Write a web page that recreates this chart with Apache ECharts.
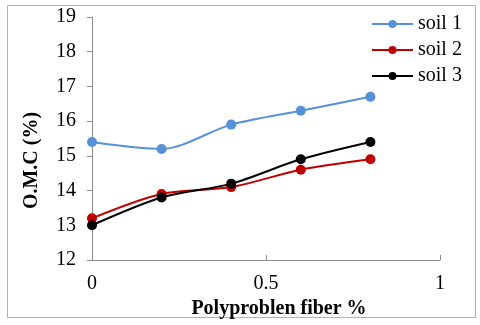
<!DOCTYPE html>
<html>
<head>
<meta charset="utf-8">
<script src="https://cdn.jsdelivr.net/npm/echarts@6/dist/echarts.min.js"></script>
<style>
  html, body { margin: 0; padding: 0; background: #fff; }
  #chart { width: 480px; height: 325px; }
</style>
</head>
<body>
<div id="chart"></div>
<script>
const fiber = [0, 0.2, 0.4, 0.6, 0.8]
const soil1 = [15.4, 15.2, 15.9, 16.3, 16.7]
const soil2 = [13.2, 13.9, 14.1, 14.6, 14.9]
const soil3 = [13.0, 13.8, 14.2, 14.9, 15.4]
const seriesNames = ['soil 1', 'soil 2', 'soil 3']
const colors = ['#5591d8', '#c00000', '#000000']

const font = 'Liberation Serif'
const myChart = echarts.init(document.getElementById('chart'))

const pairs = (ys) => fiber.map((x, i) => [x, ys[i]])

const option = {
  animation: false,
  textStyle: { fontFamily: font },
  graphic: [
    {
      type: 'rect',
      shape: { x: 7.5, y: 5.5, width: 468, height: 312 },
      style: { fill: 'none', stroke: '#b0b0b0', lineWidth: 1 },
    },
  ],
  grid: { left: 92, right: 40, top: 17, bottom: 65 },
  legend: {
    orient: 'vertical',
    left: 366,
    top: 9,
    itemWidth: 41,
    itemHeight: 10,
    itemGap: 6,
    textStyle: { fontFamily: font, fontSize: 20, color: '#000' },
    data: seriesNames,
  },
  xAxis: {
    type: 'value',
    min: 0,
    max: 1,
    interval: 0.5,
    name: 'Polyproblen fiber %',
    nameLocation: 'middle',
    nameGap: 34,
    nameTextStyle: { fontFamily: font, fontSize: 20, fontWeight: 'bold', color: '#000', padding: [0, 0, 0, 26] },
    axisLine: { lineStyle: { color: '#8c8c8c' } },
    axisTick: { inside: true, length: 5, lineStyle: { color: '#8c8c8c' } },
    axisLabel: { fontFamily: font, fontSize: 20, color: '#000', margin: 14 },
    splitLine: { show: false },
  },
  yAxis: {
    type: 'value',
    min: 12,
    max: 19,
    interval: 1,
    name: 'O.M.C (%)',
    nameLocation: 'middle',
    nameGap: 50,
    nameTextStyle: { fontFamily: font, fontSize: 20, fontWeight: 'bold', color: '#000', padding: [0, 44, 0, 0] },
    axisLine: { show: true, lineStyle: { color: '#8c8c8c' } },
    axisTick: { show: true, length: 5, lineStyle: { color: '#8c8c8c' } },
    axisLabel: { fontFamily: font, fontSize: 20, color: '#000', margin: 16 },
    splitLine: { show: false },
  },
  series: [soil1, soil2, soil3].map((ys, i) => ({
    name: seriesNames[i],
    type: 'line',
    smooth: 0.3,
    symbol: 'circle',
    symbolSize: 10,
    color: colors[i],
    lineStyle: { width: 2 },
    data: pairs(ys),
  })),
}

myChart.setOption(option, true)
</script>
</body>
</html>
